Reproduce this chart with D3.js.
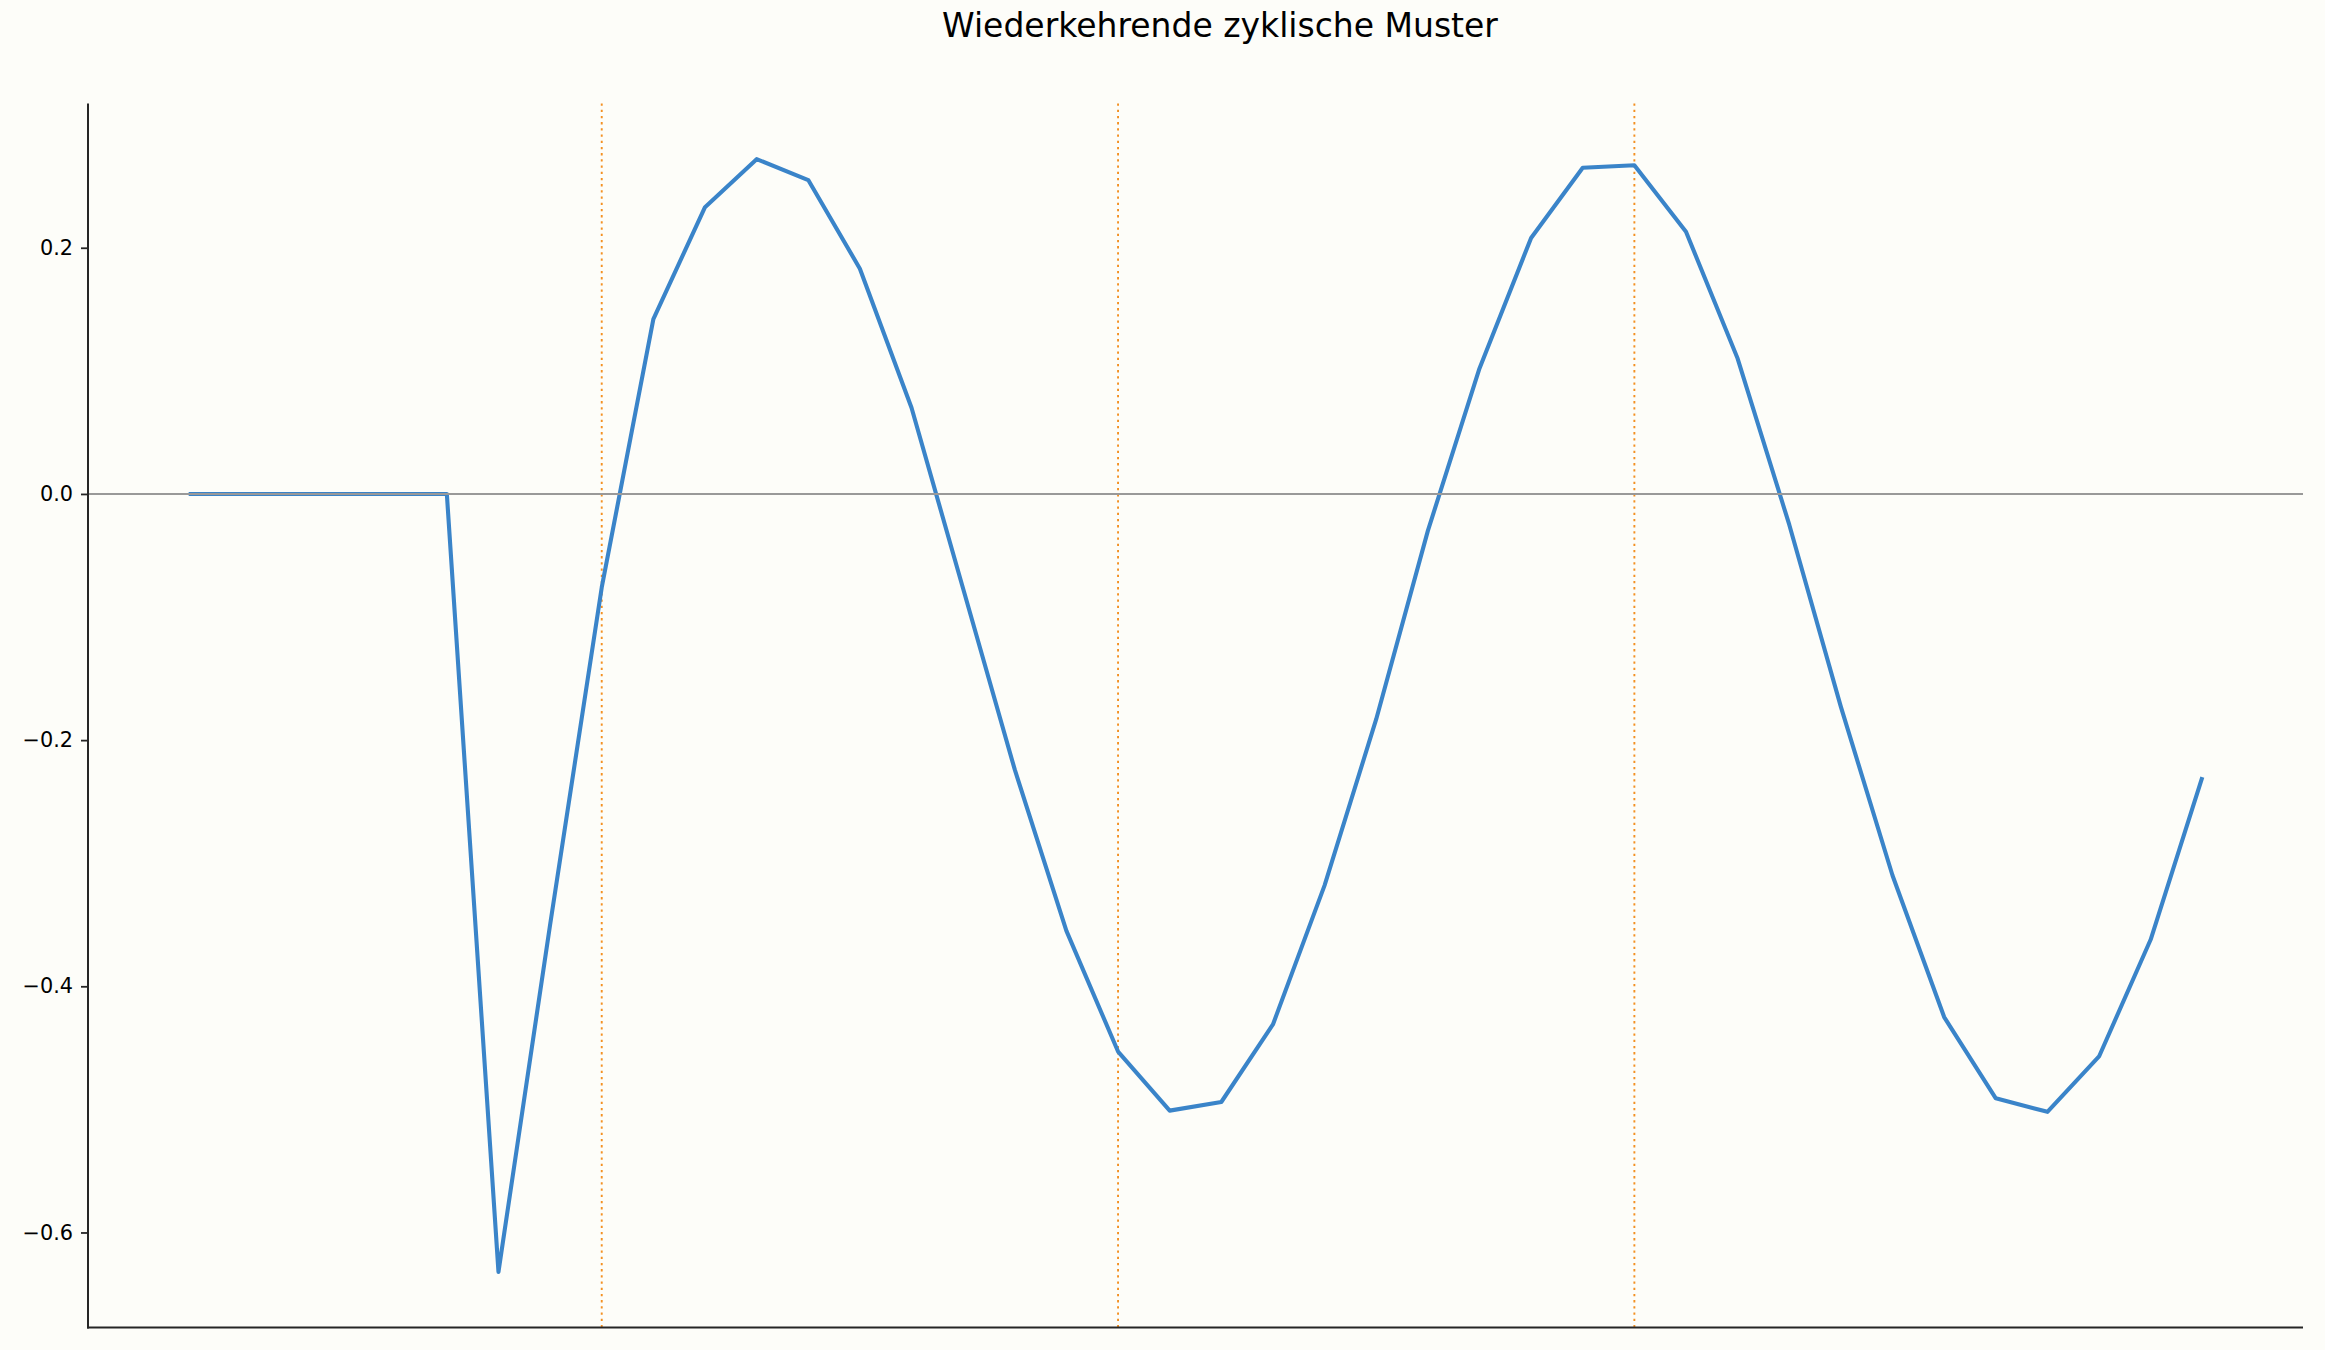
<!DOCTYPE html>
<html>
<head>
<meta charset="utf-8">
<script src="https://cdn.jsdelivr.net/npm/d3@7"></script>
<style>
  html, body { margin: 0; padding: 0; background: #fdfdf9; }
  svg { display: block; }
</style>
</head>
<body>
<script>
// ---- data ----
const titleText = "Wiederkehrende zyklische Muster";
const xIndex = d3.range(40);
const seriesValues = [
  0, 0, 0, 0, 0, 0,
  -0.632, -0.35, -0.076, 0.142, 0.233, 0.272, 0.255, 0.183, 0.070, -0.077,
  -0.224, -0.355, -0.453, -0.501, -0.494, -0.431, -0.318, -0.183, -0.030, 0.102,
  0.208, 0.265, 0.267, 0.213, 0.110, -0.025, -0.173, -0.310, -0.425, -0.491,
  -0.502, -0.457, -0.362, -0.230
];
const markerPositions = [8, 18, 28];
const yTickValues = [-0.6, -0.4, -0.2, 0.0, 0.2];
const yTickLabels = ["\u22120.6", "\u22120.4", "\u22120.2", "0.0", "0.2"];

// ---- layout ----
const W = 2325, H = 1350;
const margin = { left: 88, right: 22, top: 103.5, bottom: 22.5 };
const plotW = W - margin.left - margin.right;
const plotH = H - margin.top - margin.bottom;

const svg = d3.select("body").append("svg")
  .attr("width", W).attr("height", H)
  .style("background", "#fdfdf9");

svg.append("rect").attr("width", W).attr("height", H).attr("fill", "#fdfdf9");

// scales with matplotlib-like 5% padding
const xExt = d3.extent(xIndex);
const xPad = (xExt[1] - xExt[0]) * 0.05;
const x = d3.scaleLinear().domain([xExt[0] - xPad, xExt[1] + xPad]).range([0, plotW]);
const yExt = d3.extent(seriesValues);
const yPad = (yExt[1] - yExt[0]) * 0.05;
const y = d3.scaleLinear().domain([yExt[0] - yPad, yExt[1] + yPad]).range([plotH, 0]);

const g = svg.append("g").attr("transform", `translate(${margin.left},${margin.top})`);

// title
svg.append("text")
  .attr("x", 1220).attr("y", 37)
  .attr("text-anchor", "middle")
  .attr("font-family", "DejaVu Sans")
  .attr("font-size", 33)
  .attr("fill", "#000")
  .text(titleText);

// vertical dotted marker lines
g.selectAll("line.marker").data(markerPositions).enter().append("line")
  .attr("class", "marker")
  .attr("x1", d => x(d)).attr("x2", d => x(d))
  .attr("y1", 0).attr("y2", plotH)
  .attr("stroke", "#f39022")
  .attr("stroke-width", 1.9)
  .attr("stroke-dasharray", "2.3,3.9");

// data line
const line = d3.line().x((d, i) => x(xIndex[i])).y(d => y(d));
g.append("path")
  .datum(seriesValues)
  .attr("d", line)
  .attr("fill", "none")
  .attr("stroke", "#3a84c9")
  .attr("stroke-width", 4.1)
  .attr("stroke-linejoin", "round");

// zero line
g.append("line")
  .attr("x1", 0).attr("x2", plotW)
  .attr("y1", y(0)).attr("y2", y(0))
  .attr("stroke", "#999999")
  .attr("stroke-width", 2.1);

// y axis
const yAxis = d3.axisLeft(y)
  .tickValues(yTickValues)
  .tickFormat((d, i) => yTickLabels[i])
  .tickSize(7)
  .tickPadding(8);
const ya = g.append("g").call(yAxis);
ya.select(".domain").remove();
ya.selectAll(".tick line").attr("stroke", "#262626").attr("stroke-width", 1.8);
ya.selectAll(".tick text")
  .attr("font-family", "DejaVu Sans")
  .attr("font-size", 20.8)
  .attr("fill", "#000");

// spines
g.append("line")
  .attr("x1", 0).attr("x2", 0).attr("y1", 0).attr("y2", plotH + 1)
  .attr("stroke", "#262626").attr("stroke-width", 2);
g.append("line")
  .attr("x1", -1).attr("x2", plotW).attr("y1", plotH).attr("y2", plotH)
  .attr("stroke", "#262626").attr("stroke-width", 2);
</script>
</body>
</html>
